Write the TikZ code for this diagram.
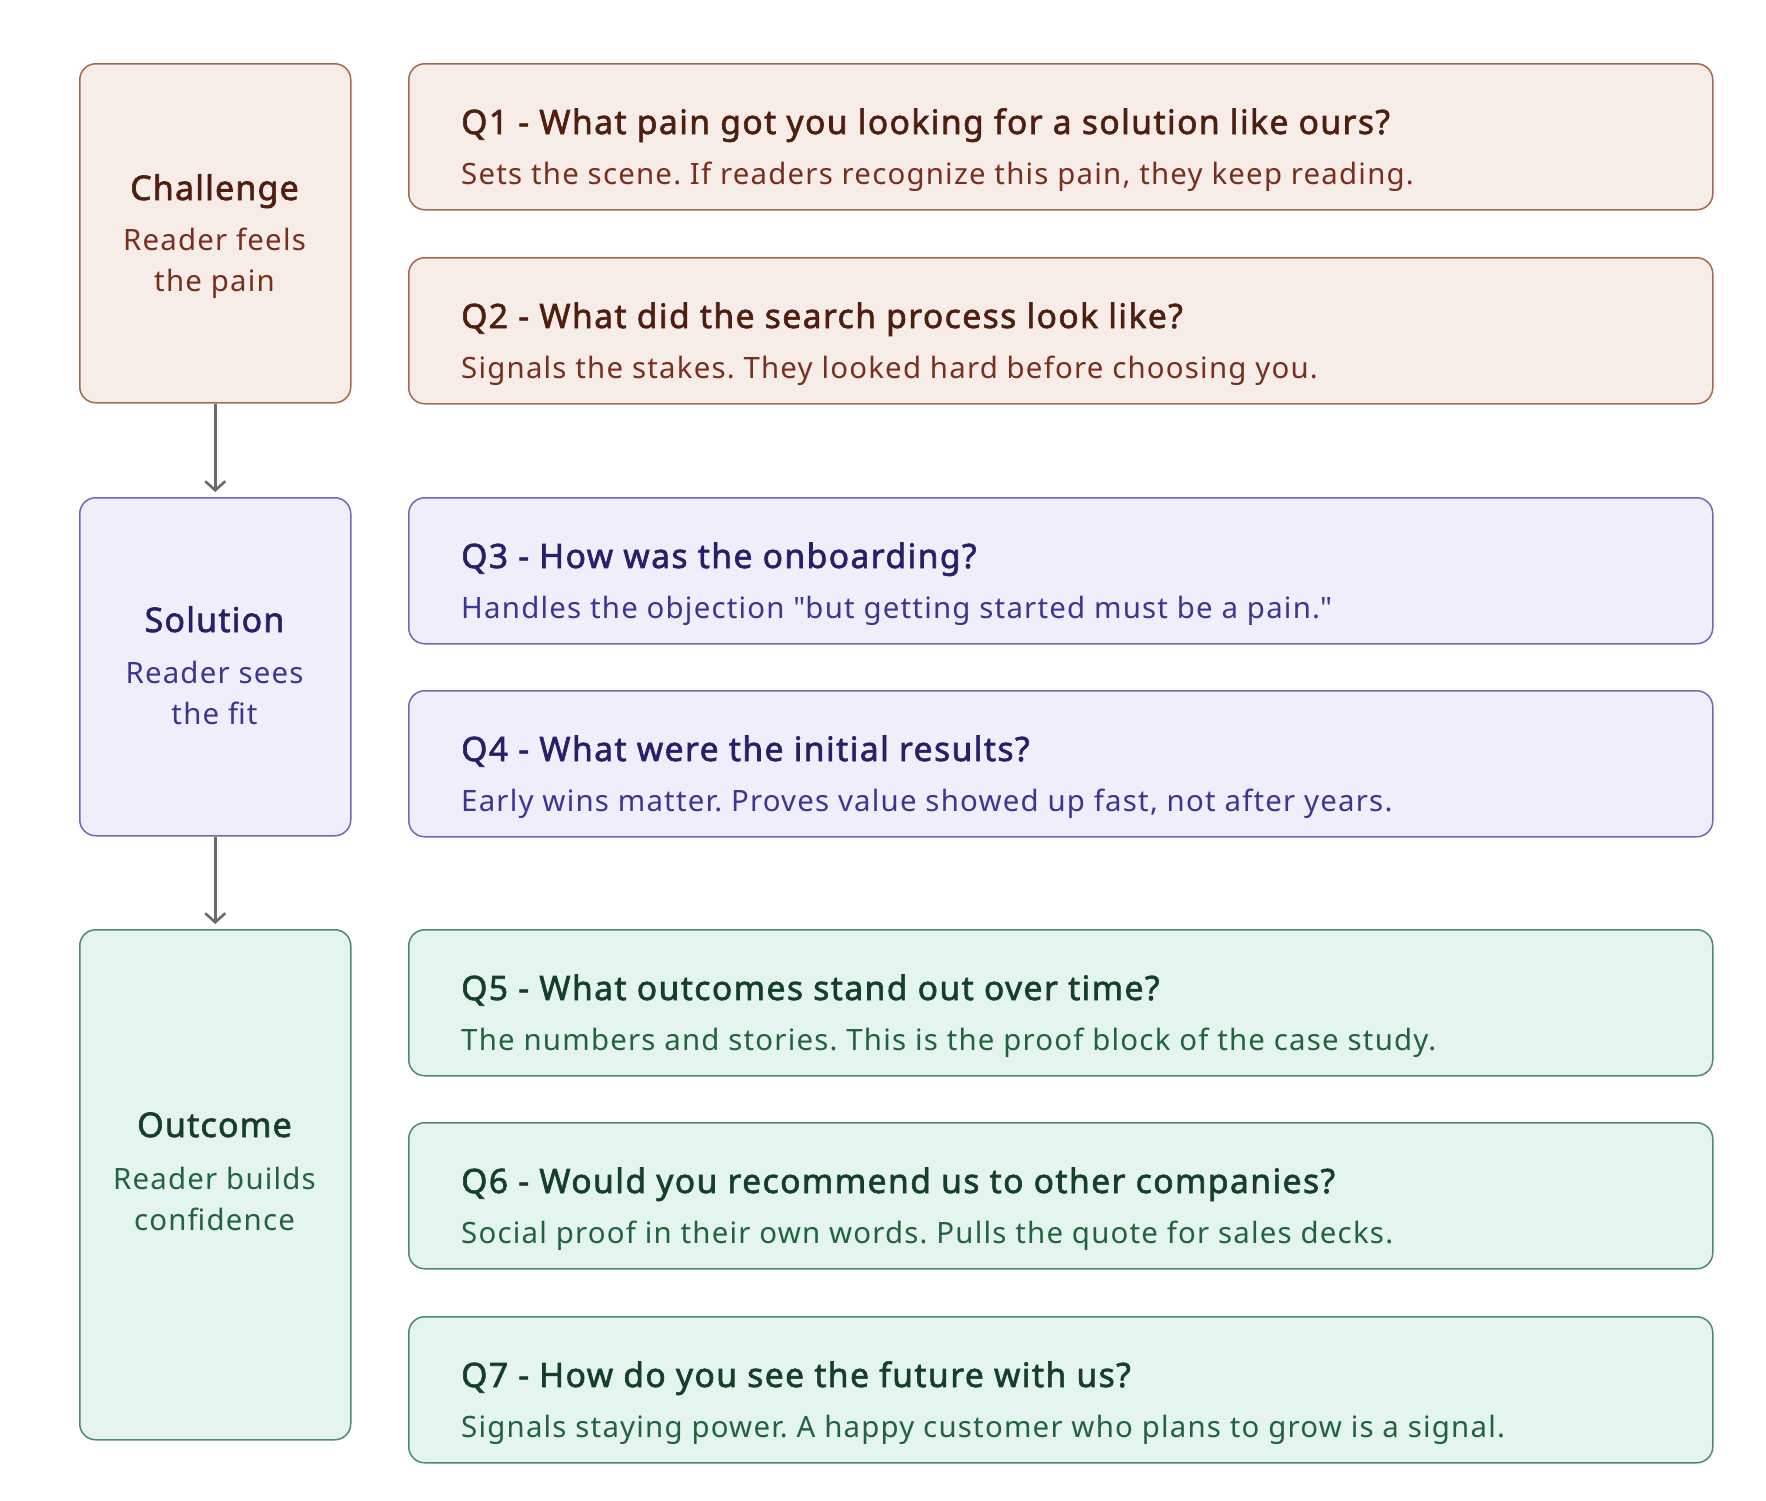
\documentclass[tikz,border=0pt]{standalone}
\usepackage{fontspec}
\setmainfont{Noto Sans}[LetterSpace=4.1]
\newfontfamily\ttlfont{Noto Sans}[LetterSpace=4.3, FakeBold=1.8]
\newfontfamily\lttlfont{Noto Sans}[LetterSpace=3.4, FakeBold=1.8]
\newcommand{\straightdq}{\XeTeXglyph\XeTeXcharglyph"22\relax}
\usetikzlibrary{arrows.meta}
\definecolor{chfill}{HTML}{F7EDE8}
\definecolor{chdraw}{HTML}{A5684F}
\definecolor{chtitle}{HTML}{4F1E0E}
\definecolor{chtext}{HTML}{7A2E1C}
\definecolor{sofill}{HTML}{EFEEFA}
\definecolor{sodraw}{HTML}{7068B8}
\definecolor{sotitle}{HTML}{26206B}
\definecolor{sotext}{HTML}{3B3596}
\definecolor{oufill}{HTML}{E4F4EE}
\definecolor{oudraw}{HTML}{4E8A6C}
\definecolor{outitle}{HTML}{153F2A}
\definecolor{outext}{HTML}{22633F}
\definecolor{arrowgray}{HTML}{6A6A6A}
\frenchspacing
\begin{document}
\begin{tikzpicture}[x=1pt,y=-1pt,
  box/.style={draw, rounded corners=16pt, line width=1.5pt, anchor=north west, inner sep=0pt},
  lbox/.style={box, minimum width=271pt},
  qbox/.style={box, minimum width=1304pt, minimum height=146pt},
  chb/.style={fill=chfill, draw=chdraw},
  sob/.style={fill=sofill, draw=sodraw},
  oub/.style={fill=oufill, draw=oudraw},
  qtitle/.style={anchor=base west, inner sep=0pt, font=\fontsize{33.6}{40}\ttlfont},
  qtext/.style={anchor=base west, inner sep=0pt, font=\fontsize{29.4}{36}\selectfont},
  ltitle/.style={anchor=base, inner sep=0pt, font=\fontsize{34}{40}\lttlfont},
  ltext/.style={anchor=base, inner sep=0pt, font=\fontsize{29.4}{36}\selectfont},
  flow/.style={draw=arrowgray, line width=2.6pt, -{Straight Barb[length=9pt,width=20pt,line width=2.6pt]}, shorten >=5pt}
]
\useasboundingbox (0,0) rectangle (1766,1500);

% left stage boxes
\node[lbox, chb, minimum height=339pt] (chal) at (79,63) {};
\node[lbox, sob, minimum height=338pt] (sol) at (79,497) {};
\node[lbox, oub, minimum height=510pt] (out) at (79,929) {};

\node[ltitle, text=chtitle] (chalT) at (214.5,200) {Challenge};
\node[ltext, text=chtext] (chalA) at (214.5,250) {Reader feels};
\node[ltext, text=chtext] (chalB) at (214.5,291) {the pain};

\node[ltitle, text=sotitle] (solT) at (214.5,632) {Solution};
\node[ltext, text=sotext] (solA) at (214.5,683) {Reader sees};
\node[ltext, text=sotext] (solB) at (214.5,724) {the fit};

\node[ltitle, text=outitle] (outT) at (214.5,1137) {Outcome};
\node[ltext, text=outext] (outA) at (214.5,1189) {Reader builds};
\node[ltext, text=outext] (outB) at (214.5,1230) {confidence};

% arrows
\draw[flow] (chal.south) -- (sol.north);
\draw[flow] (sol.south) -- (out.north);

% question boxes
\node[qbox, chb] (q1) at (408,63) {};
\node[qbox, chb] (q2) at (408,257) {};
\node[qbox, sob] (q3) at (408,497) {};
\node[qbox, sob] (q4) at (408,690) {};
\node[qbox, oub] (q5) at (408,929) {};
\node[qbox, oub] (q6) at (408,1122) {};
\node[qbox, oub] (q7) at (408,1316) {};

\node[qtitle, text=chtitle] (q1t) at ([xshift=53pt,yshift=-71pt]q1.north west) {Q1 - What pain got you looking for a solution like ours?};
\node[qtext, text=chtext] (q1d) at ([xshift=53pt,yshift=-121pt]q1.north west) {Sets the scene. If readers recognize this pain, they keep reading.};

\node[qtitle, text=chtitle] (q2t) at ([xshift=53pt,yshift=-71pt]q2.north west) {Q2 - What did the search process look like?};
\node[qtext, text=chtext] (q2d) at ([xshift=53pt,yshift=-121pt]q2.north west) {Signals the stakes. They looked hard before choosing you.};

\node[qtitle, text=sotitle] (q3t) at ([xshift=53pt,yshift=-71pt]q3.north west) {Q3 - How was the onboarding?};
\node[qtext, text=sotext] (q3d) at ([xshift=53pt,yshift=-121pt]q3.north west) {Handles the objection \straightdq but getting started must be a pain.\straightdq};

\node[qtitle, text=sotitle] (q4t) at ([xshift=53pt,yshift=-71pt]q4.north west) {Q4 - What were the initial results?};
\node[qtext, text=sotext] (q4d) at ([xshift=53pt,yshift=-121pt]q4.north west) {Early wins matter. Proves value showed up fast, not after years.};

\node[qtitle, text=outitle] (q5t) at ([xshift=53pt,yshift=-71pt]q5.north west) {Q5 - What outcomes stand out over time?};
\node[qtext, text=outext] (q5d) at ([xshift=53pt,yshift=-121pt]q5.north west) {The numbers and stories. This is the proof block of the case study.};

\node[qtitle, text=outitle] (q6t) at ([xshift=53pt,yshift=-71pt]q6.north west) {Q6 - Would you recommend us to other companies?};
\node[qtext, text=outext] (q6d) at ([xshift=53pt,yshift=-121pt]q6.north west) {Social proof in their own words. Pulls the quote for sales decks.};

\node[qtitle, text=outitle] (q7t) at ([xshift=53pt,yshift=-71pt]q7.north west) {Q7 - How do you see the future with us?};
\node[qtext, text=outext] (q7d) at ([xshift=53pt,yshift=-121pt]q7.north west) {Signals staying power. A happy customer who plans to grow is a signal.};
\end{tikzpicture}
\end{document}
